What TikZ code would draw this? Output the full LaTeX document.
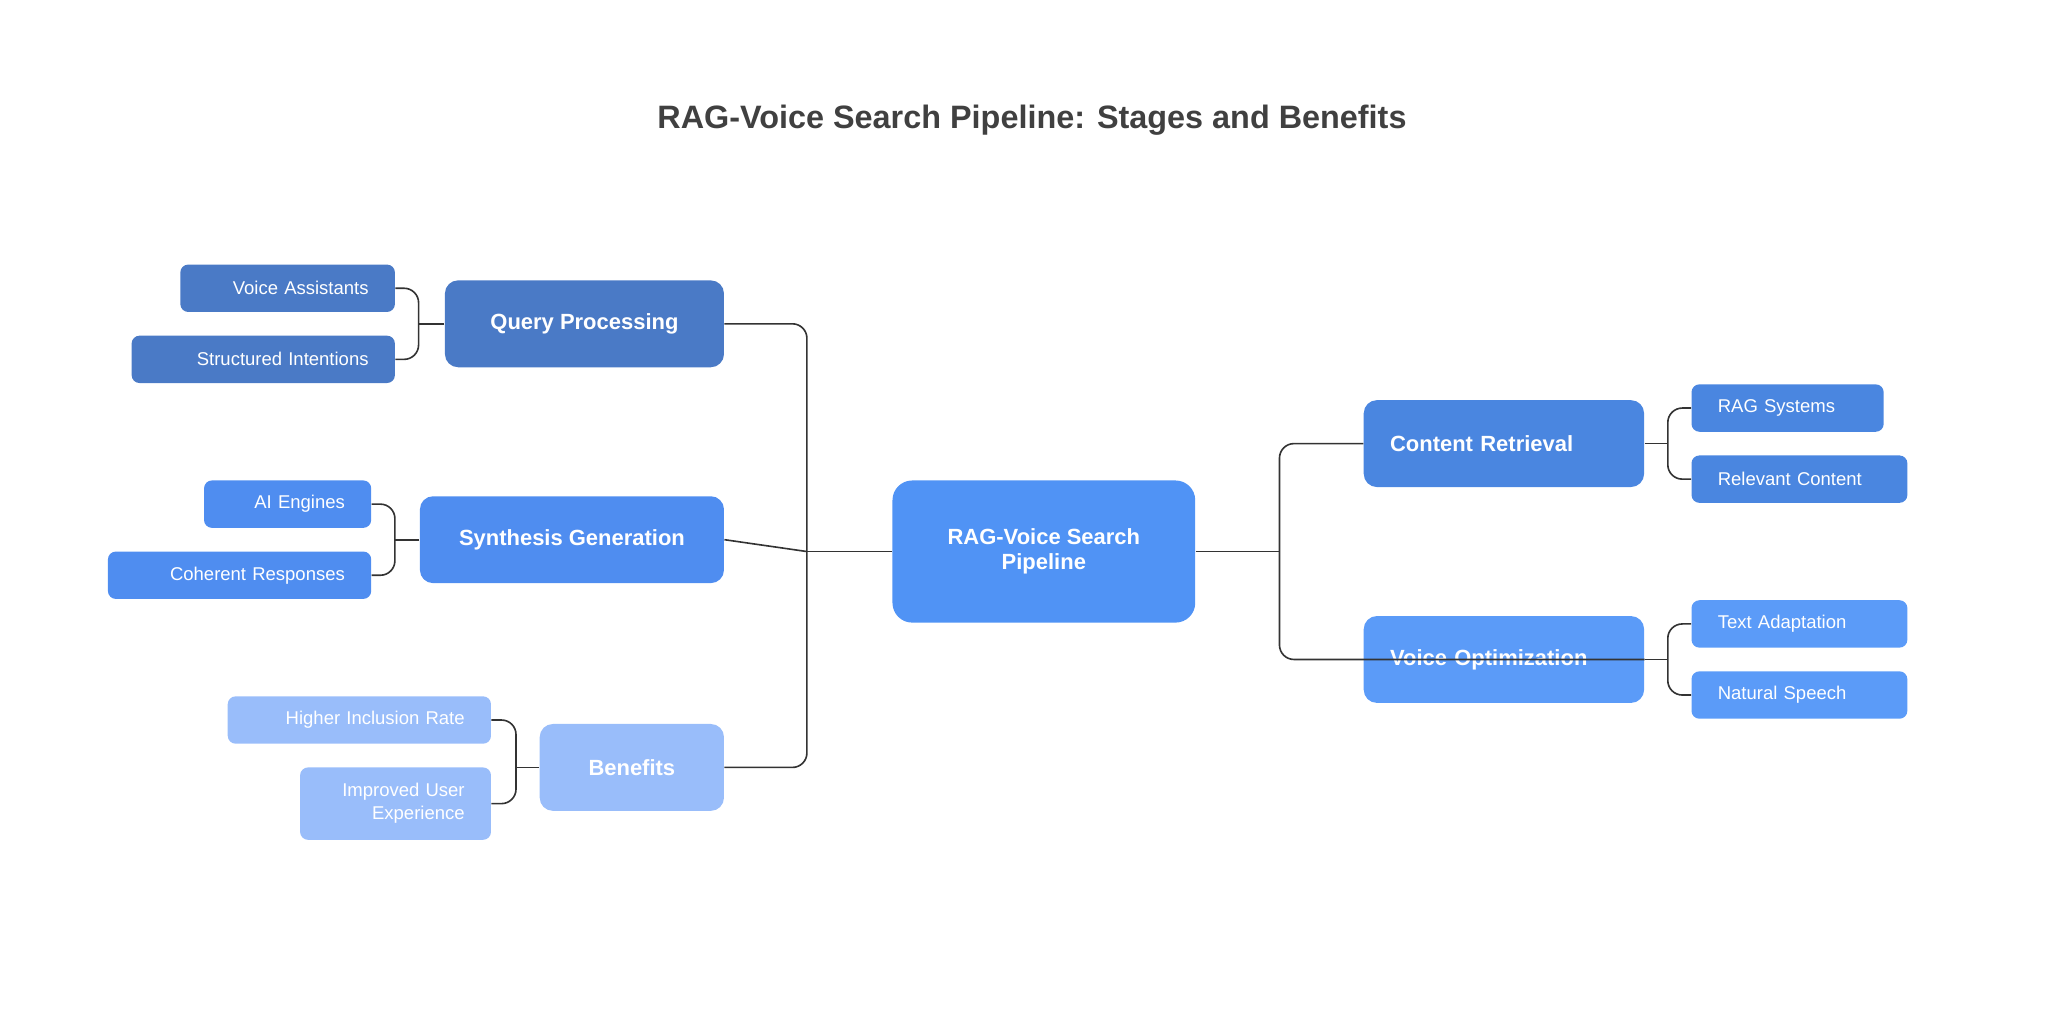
\documentclass[tikz,border=0pt]{standalone}
\usepackage{fontspec}
\setmainfont{Liberation Sans}
\begin{document}
\begin{tikzpicture}[x=0.02cm,y=-0.02cm,
 box/.style={draw=none,rounded corners=0.2cm,text=white,inner sep=0pt},
 main/.style={box,font=\fontsize{9.5}{11}\selectfont\bfseries,align=center},
 leaf/.style={box,rounded corners=0.12cm,font=\fontsize{8}{10}\selectfont},
 conn/.style={draw=black!80,line width=0.7pt,rounded corners=0.22cm}]
\definecolor{cq}{HTML}{4A7AC6}
\definecolor{cs}{HTML}{4F8DF0}
\definecolor{cb}{HTML}{99BDFA}
\definecolor{cc}{HTML}{5093F5}
\definecolor{cr}{HTML}{4A86E0}
\definecolor{cv}{HTML}{5B9BF8}
\useasboundingbox (0,0) rectangle (1568,766);
\node[font=\fontsize{14}{16}\selectfont\bfseries,text=black!75] (title) at (784,91) {RAG-Voice Search Pipeline: Stages and Benefits};
% main nodes
\node[main,fill=cc,minimum width=230*0.02cm,minimum height=108*0.02cm,rounded corners=0.3cm] (c) at (793,419) {RAG-Voice Search\\Pipeline};
\node[main,fill=cq,minimum width=212*0.02cm,minimum height=66*0.02cm] (qp) at (444,246) {Query Processing};
\node[main,fill=cs,minimum width=231*0.02cm,minimum height=66*0.02cm] (sg) at (434.5,410) {Synthesis Generation};
\node[main,fill=cb,minimum width=140*0.02cm,minimum height=66*0.02cm] (bn) at (480,583) {Benefits};
\node[main,fill=cr,minimum width=213*0.02cm,minimum height=66*0.02cm,text width=173*0.02cm,align=left] (cr) at (1142.5,337) {Content Retrieval};
\node[main,fill=cv,minimum width=213*0.02cm,minimum height=66*0.02cm,text width=173*0.02cm,align=left] (vo) at (1142.5,501) {Voice Optimization};
% left leaves
\node[leaf,fill=cq,minimum width=163*0.02cm,minimum height=36*0.02cm,text width=123*0.02cm,align=right] (va) at (218.5,219) {Voice Assistants};
\node[leaf,fill=cq,minimum width=200*0.02cm,minimum height=36*0.02cm,text width=160*0.02cm,align=right] (si) at (200,273) {Structured Intentions};
\node[leaf,fill=cs,minimum width=127*0.02cm,minimum height=36*0.02cm,text width=87*0.02cm,align=right] (ai) at (218.5,383) {AI Engines};
\node[leaf,fill=cs,minimum width=200*0.02cm,minimum height=36*0.02cm,text width=160*0.02cm,align=right] (cor) at (182,437) {Coherent Responses};
\node[leaf,fill=cb,minimum width=200*0.02cm,minimum height=36*0.02cm,text width=160*0.02cm,align=right] (hi) at (273,547) {Higher Inclusion Rate};
\node[leaf,fill=cb,minimum width=145*0.02cm,minimum height=55*0.02cm,text width=105*0.02cm,align=right] (iu) at (300.5,610.5) {Improved User\\Experience};
% right leaves
\node[leaf,fill=cr,minimum width=146*0.02cm,minimum height=36*0.02cm,text width=106*0.02cm,align=left] (rs) at (1358,310) {RAG Systems};
\node[leaf,fill=cr,minimum width=164*0.02cm,minimum height=36*0.02cm,text width=124*0.02cm,align=left] (rc) at (1367,364) {Relevant Content};
\node[leaf,fill=cv,minimum width=164*0.02cm,minimum height=36*0.02cm,text width=124*0.02cm,align=left] (ta) at (1367,474) {Text Adaptation};
\node[leaf,fill=cv,minimum width=164*0.02cm,minimum height=36*0.02cm,text width=124*0.02cm,align=left] (ns) at (1367,528) {Natural Speech};
% bus coordinates
\coordinate (lb) at (613,419);
\coordinate (rb) at (972,419);
\coordinate (xq) at (318,246);
\coordinate (xs) at (300,410);
\coordinate (xb) at (392,583);
\coordinate (xr) at (1267,337);
\coordinate (xv) at (1267,501);
% connectors
\draw[conn] (c.west) -- (lb);
\draw[conn] (qp.east) -| (lb) |- (bn.east);
\draw[conn] (sg.east) -- (lb);
\draw[conn] (c.east) -- (rb);
\draw[conn] (cr.west) -| (rb) |- (vo.east);
\draw[conn] (va.east) -| (xq) |- (si.east);
\draw[conn] (qp.west) -- (xq);
\draw[conn] (ai.east) -| (xs) |- (cor.east);
\draw[conn] (sg.west) -- (xs);
\draw[conn] (hi.east) -| (xb) |- (iu.east);
\draw[conn] (bn.west) -- (xb);
\draw[conn] (rs.west) -| (xr) |- (rc.west);
\draw[conn] (cr.east) -- (xr);
\draw[conn] (ta.west) -| (xv) |- (ns.west);
\draw[conn] (vo.east) -- (xv);
\end{tikzpicture}
\end{document}
